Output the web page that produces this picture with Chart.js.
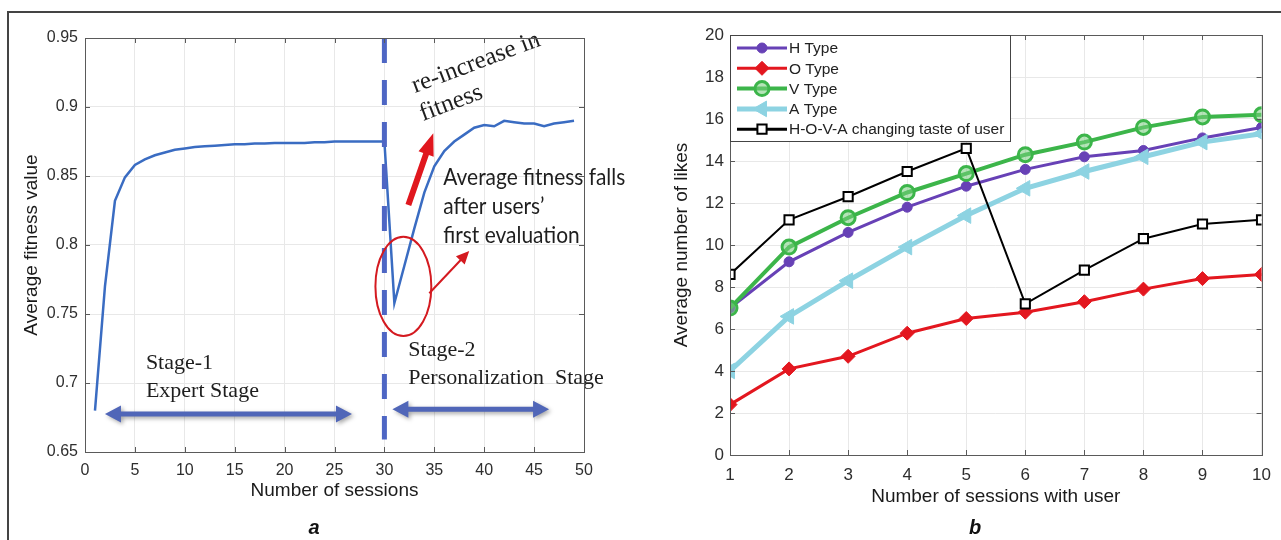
<!DOCTYPE html>
<html><head><meta charset="utf-8">
<script src="https://cdn.jsdelivr.net/npm/chart.js@4.4.1/dist/chart.umd.min.js"></script>
<style>
html,body{margin:0;padding:0;background:#fff;}
#wrap{position:relative;width:1281px;height:540px;overflow:hidden;background:#fff;}
#ca{position:absolute;left:0;top:0;}
#cb{position:absolute;left:640px;top:0;}
.frameTop{position:absolute;left:7px;top:11px;width:1274px;height:2px;background:#444;}
.frameLeft{position:absolute;left:7px;top:11px;width:2px;height:529px;background:#444;}
.lab{position:absolute;font:italic bold 20px "Liberation Sans",Arial,sans-serif;color:#111;transform:translate(-50%,-50%);}
</style></head>
<body>
<div id="wrap">
  <canvas id="ca" width="640" height="540"></canvas>
  <canvas id="cb" width="641" height="540"></canvas>
  <div class="frameTop"></div>
  <div class="frameLeft"></div>
  <div class="lab" style="left:314px;top:527px;">a</div>
  <div class="lab" style="left:975px;top:527px;">b</div>
</div>
<script>
// ---------------- Panel a data ----------------
const sessionsA = [1,2,3,4,5,6,7,8,9,10,11,12,13,14,15,16,17,18,19,20,21,22,23,24,25,26,27,28,29,30,31,32,33,34,35,36,37,38,39,40,41,42,43,44,45,46,47,48,49];
const fitnessA = [0.680,0.770,0.832,0.849,0.858,0.862,0.865,0.867,0.869,0.870,0.871,0.8715,0.872,0.8725,0.873,0.873,0.8735,0.8735,0.874,0.874,0.874,0.874,0.8745,0.8745,0.875,0.875,0.875,0.875,0.875,0.875,
                  0.758,0.785,0.812,0.838,0.857,0.868,0.875,0.880,0.885,0.887,0.886,0.890,0.889,0.888,0.888,0.886,0.888,0.889,0.890];
const xTicksA = [0,5,10,15,20,25,30,35,40,45,50];
const yTicksA = [0.65,0.7,0.75,0.8,0.85,0.9,0.95];
const stageSplit = 30;

// ---------------- Panel b data ----------------
const sessionsB = [1,2,3,4,5,6,7,8,9,10];
const hType    = [7.0, 9.2, 10.6, 11.8, 12.8, 13.6, 14.2, 14.5, 15.1, 15.6];
const oType    = [2.4, 4.1, 4.7, 5.8, 6.5, 6.8, 7.3, 7.9, 8.4, 8.6];
const vType    = [7.0, 9.9, 11.3, 12.5, 13.4, 14.3, 14.9, 15.6, 16.1, 16.2];
const aType    = [4.0, 6.6, 8.3, 9.9, 11.4, 12.7, 13.5, 14.2, 14.9, 15.3];
const hovaType = [8.6, 11.2, 12.3, 13.5, 14.6, 7.2, 8.8, 10.3, 11.0, 11.2];
const seriesNamesB = ['H Type','O Type','V Type','A Type','H-O-V-A changing taste of user'];
const yTicksB = [0,2,4,6,8,10,12,14,16,18,20];

const SANS = '"Liberation Sans", Arial, sans-serif';
const SERIF = '"Liberation Serif", "Times New Roman", serif';

// ---------- helpers ----------
function arrow(ctx, x1, y1, x2, y2, w, hl, hw, color){
  const ang = Math.atan2(y2-y1, x2-x1), len = Math.hypot(x2-x1, y2-y1);
  ctx.save(); ctx.translate(x1, y1); ctx.rotate(ang); ctx.fillStyle = color;
  ctx.beginPath();
  ctx.moveTo(0,-w/2); ctx.lineTo(len-hl,-w/2); ctx.lineTo(len-hl,-hw/2); ctx.lineTo(len,0);
  ctx.lineTo(len-hl,hw/2); ctx.lineTo(len-hl,w/2); ctx.lineTo(0,w/2); ctx.closePath(); ctx.fill();
  ctx.restore();
}
function dblArrow(ctx, x1, x2, y, w, hl, hw, color){
  ctx.save(); ctx.fillStyle = color;
  ctx.shadowColor = 'rgba(0,0,0,0.35)'; ctx.shadowBlur = 4; ctx.shadowOffsetX = 2; ctx.shadowOffsetY = 2;
  ctx.beginPath();
  ctx.moveTo(x1, y); ctx.lineTo(x1+hl, y-hw/2); ctx.lineTo(x1+hl, y-w/2); ctx.lineTo(x2-hl, y-w/2);
  ctx.lineTo(x2-hl, y-hw/2); ctx.lineTo(x2, y); ctx.lineTo(x2-hl, y+hw/2); ctx.lineTo(x2-hl, y+w/2);
  ctx.lineTo(x1+hl, y+w/2); ctx.lineTo(x1+hl, y+hw/2); ctx.closePath(); ctx.fill();
  ctx.restore();
}

// box with inward ticks (MATLAB style)
const boxPlugin = {
  id: 'box',
  afterDraw(chart){
    const {ctx, chartArea: a, scales} = chart;
    ctx.save();
    ctx.strokeStyle = '#5a5a5a'; ctx.lineWidth = 1;
    ctx.strokeRect(Math.round(a.left)+0.5, Math.round(a.top)+0.5, Math.round(a.right-a.left), Math.round(a.bottom-a.top));
    const tl = 5;
    ctx.beginPath();
    scales.x.ticks.forEach(t => {
      const px = Math.round(scales.x.getPixelForValue(t.value))+0.5;
      ctx.moveTo(px, a.bottom); ctx.lineTo(px, a.bottom-tl);
      ctx.moveTo(px, a.top); ctx.lineTo(px, a.top+tl);
    });
    scales.y.ticks.forEach(t => {
      const py = Math.round(scales.y.getPixelForValue(t.value))+0.5;
      ctx.moveTo(a.left, py); ctx.lineTo(a.left+tl, py);
      ctx.moveTo(a.right, py); ctx.lineTo(a.right-tl, py);
    });
    ctx.stroke();
    ctx.restore();
  }
};

// annotations for panel a (positions in data units)
const annoA = {
  id: 'annoA',
  afterDatasetsDraw(chart){
    const {ctx, scales: {x, y}} = chart;
    const X = v => x.getPixelForValue(v), Y = v => y.getPixelForValue(v);
    ctx.save();
    // dashed stage divider
    ctx.strokeStyle = '#4e66c4'; ctx.lineWidth = 5; ctx.setLineDash([25, 17]);
    ctx.beginPath(); ctx.moveTo(X(stageSplit), Y(0.95)); ctx.lineTo(X(stageSplit), Y(0.659)); ctx.stroke();
    ctx.setLineDash([]);

    // stage arrows
    dblArrow(ctx, X(2.0), X(26.75), Y(0.6775), 5, 16, 17, '#5066b8');
    dblArrow(ctx, X(30.8), X(46.5), Y(0.681), 5, 16, 17, '#5066b8');

    // stage texts
    ctx.fillStyle = '#1e1e1e'; ctx.font = '22px ' + SERIF; ctx.textBaseline = 'middle'; ctx.textAlign = 'left';
    ctx.fillText('Stage-1', X(6.1), Y(0.714));
    ctx.fillText('Expert Stage', X(6.1), Y(0.694));
    ctx.fillText('Stage-2', X(32.4), Y(0.724));
    ctx.fillText('Personalization  Stage', X(32.4), Y(0.7036));

    // red ellipse
    ctx.strokeStyle = '#d41a20'; ctx.lineWidth = 2;
    ctx.beginPath();
    ctx.ellipse(X(31.9), Y(0.770), X(31.9+2.8)-X(31.9), Y(0.770-0.036)-Y(0.770), 0, 0, Math.PI*2);
    ctx.stroke();
    // thin red arrow
    const tx1 = X(34.5), ty1 = Y(0.765), tx2 = X(38.5), ty2 = Y(0.7957);
    ctx.beginPath(); ctx.moveTo(tx1, ty1);
    const ang = Math.atan2(ty2-ty1, tx2-tx1);
    ctx.lineTo(tx2 - 10*Math.cos(ang), ty2 - 10*Math.sin(ang)); ctx.stroke();
    arrow(ctx, tx2 - 13*Math.cos(ang), ty2 - 13*Math.sin(ang), tx2, ty2, 2, 13, 12, '#d41a20');
    // thick red arrow
    arrow(ctx, X(32.4), Y(0.829), X(34.9), Y(0.881), 6, 22, 16, '#e0171e');

    // rotated text
    ctx.fillStyle = '#1e1e1e'; ctx.font = '25px ' + SERIF; ctx.textBaseline = 'alphabetic';
    const rot = -20.7*Math.PI/180;
    [['re-increase in', 33.07, 0.9101], ['fitness', 33.87, 0.8899]].forEach(([t, vx, vy]) => {
      ctx.save(); ctx.translate(X(vx), Y(vy)); ctx.rotate(rot); ctx.fillText(t, 0, 0); ctx.restore();
    });

    // explanation text (Calibri-like, fitted)
    ctx.font = '23px Lato, "Open Sans", sans-serif'; ctx.textBaseline = 'middle';
    const lines = [['Average fitness falls', 0.8486], ['after users\u2019', 0.8275], ['first evaluation', 0.8065]];
    const sx = 182 / ctx.measureText(lines[0][0]).width;
    lines.forEach(([t, vy]) => {
      ctx.save(); ctx.translate(X(35.9), Y(vy)); ctx.scale(sx, 1); ctx.fillText(t, 0, 0); ctx.restore();
    });
    ctx.restore();
  }
};

// legend for panel b
const legendB = {
  id: 'legendB',
  afterDraw(chart){
    const {ctx, chartArea: a} = chart;
    const ds = chart.data.datasets;
    ctx.save();
    ctx.font = '15.5px ' + SANS;
    const maxW = Math.max(...ds.map(d => ctx.measureText(d.label).width));
    const bx = a.left, by = a.top, rowH = 20.3;
    const bw = 59 + maxW + 6, bh = 25 + rowH*(ds.length-1);
    ctx.fillStyle = '#fff'; ctx.fillRect(bx, by, bw, bh);
    ctx.strokeStyle = '#444'; ctx.lineWidth = 1;
    ctx.strokeRect(Math.round(bx)+0.5, Math.round(by)+0.5, Math.round(bw), Math.round(bh));
    ds.forEach((d, i) => {
      const ry = by + 13 + i*rowH;
      ctx.strokeStyle = d.borderColor; ctx.lineWidth = Math.max(3, d.borderWidth);
      ctx.beginPath(); ctx.moveTo(bx+7, ry); ctx.lineTo(bx+57, ry); ctx.stroke();
      ctx.fillStyle = d.pointBackgroundColor; ctx.strokeStyle = d.pointBorderColor; ctx.lineWidth = d.pointBorderWidth;
      Chart.helpers.drawPoint(ctx, {pointStyle: d.pointStyle, radius: d.pointRadius, rotation: d.pointRotation || 0, borderWidth: d.pointBorderWidth}, bx+32, ry);
      ctx.fillStyle = '#222'; ctx.textBaseline = 'middle'; ctx.textAlign = 'left';
      ctx.fillText(d.label, bx+59, ry+1);
    });
    ctx.restore();
  }
};

// ---------------- Chart a ----------------
new Chart(document.getElementById('ca'), {
  type: 'line',
  data: { datasets: [{
    data: sessionsA.map((s, i) => ({x: s, y: fitnessA[i]})),
    borderColor: '#3a6cc2', borderWidth: 2.5, pointRadius: 0, tension: 0, fill: false
  }]},
  options: {
    responsive: false, animation: false, events: [],
    layout: { padding: { left: 0, right: 56, top: 38, bottom: 0 } },
    plugins: { legend: { display: false }, tooltip: { enabled: false } },
    scales: {
      x: {
        type: 'linear', min: xTicksA[0], max: xTicksA[xTicksA.length-1],
        afterBuildTicks: s => { s.ticks = xTicksA.map(v => ({value: v})); },
        ticks: { padding: 9, color: '#2e2e2e', maxRotation: 0, font: { family: SANS, size: 16 } },
        grid: { color: '#e8e8e8', drawTicks: false },
        border: { display: false },
        title: { display: true, text: 'Number of sessions', color: '#1a1a1a', font: { family: SANS, size: 19 }, padding: { top: 0, bottom: 37.6 } },
        afterFit: s => { s.height = 88; }
      },
      y: {
        min: yTicksA[0], max: yTicksA[yTicksA.length-1],
        afterBuildTicks: s => { s.ticks = yTicksA.map(v => ({value: v})); },
        ticks: { padding: 7, color: '#2e2e2e', font: { family: SANS, size: 16 }, callback: v => String(+v.toFixed(2)) },
        grid: { color: '#e8e8e8', drawTicks: false },
        border: { display: false },
        title: { display: true, text: 'Average fitness value', color: '#1a1a1a', font: { family: SANS, size: 19 }, padding: { top: 20, bottom: 0 } },
        afterFit: s => { s.width = 85; }
      }
    }
  },
  plugins: [annoA, boxPlugin]
});

// ---------------- Chart b ----------------
const mk = arr => sessionsB.map((s, i) => ({x: s, y: arr[i]}));
new Chart(document.getElementById('cb'), {
  type: 'line',
  data: { datasets: [
    { label: seriesNamesB[0], data: mk(hType), order: 5, borderColor: '#6741b6', borderWidth: 3,
      pointStyle: 'circle', pointRadius: 5, pointBackgroundColor: '#6741b6', pointBorderColor: '#6741b6', pointBorderWidth: 1 },
    { label: seriesNamesB[1], data: mk(oType), order: 4, borderColor: '#e3171f', borderWidth: 3,
      pointStyle: 'rectRot', pointRadius: 7, pointBackgroundColor: '#e3171f', pointBorderColor: '#e3171f', pointBorderWidth: 1 },
    { label: seriesNamesB[2], data: mk(vType), order: 3, borderColor: '#3cb54a', borderWidth: 4,
      pointStyle: 'circle', pointRadius: 7, pointBackgroundColor: 'rgba(120,205,125,0.55)', pointBorderColor: '#3cb54a', pointBorderWidth: 3 },
    { label: seriesNamesB[3], data: mk(aType), order: 2, borderColor: '#8dd3e2', borderWidth: 5,
      pointStyle: 'triangle', pointRotation: -90, pointRadius: 9, pointBackgroundColor: '#8dd3e2', pointBorderColor: '#8dd3e2', pointBorderWidth: 1 },
    { label: seriesNamesB[4], data: mk(hovaType), order: 1, borderColor: '#000', borderWidth: 2,
      pointStyle: 'rect', pointRadius: 6.5, pointBackgroundColor: '#fff', pointBorderColor: '#000', pointBorderWidth: 2 }
  ]},
  options: {
    responsive: false, animation: false, events: [],
    layout: { padding: { left: 0, right: 18, top: 35, bottom: 0 } },
    plugins: { legend: { display: false }, tooltip: { enabled: false } },
    scales: {
      x: {
        type: 'linear', min: sessionsB[0], max: sessionsB[sessionsB.length-1],
        afterBuildTicks: s => { s.ticks = sessionsB.map(v => ({value: v})); },
        ticks: { padding: 10, color: '#2e2e2e', maxRotation: 0, font: { family: SANS, size: 17 } },
        grid: { color: '#e8e8e8', drawTicks: false },
        border: { display: false },
        title: { display: true, text: 'Number of sessions with user', color: '#1a1a1a', font: { family: SANS, size: 19 }, padding: { top: 0, bottom: 31.6 } },
        afterFit: s => { s.height = 85; }
      },
      y: {
        min: yTicksB[0], max: yTicksB[yTicksB.length-1],
        afterBuildTicks: s => { s.ticks = yTicksB.map(v => ({value: v})); },
        ticks: { padding: 6, color: '#2e2e2e', font: { family: SANS, size: 17 } },
        grid: { color: '#e8e8e8', drawTicks: false },
        border: { display: false },
        title: { display: true, text: 'Average number of likes', color: '#1a1a1a', font: { family: SANS, size: 19 }, padding: { top: 30.6, bottom: 0 } },
        afterFit: s => { s.width = 90; }
      }
    }
  },
  plugins: [boxPlugin, legendB]
});
</script>
</body></html>
